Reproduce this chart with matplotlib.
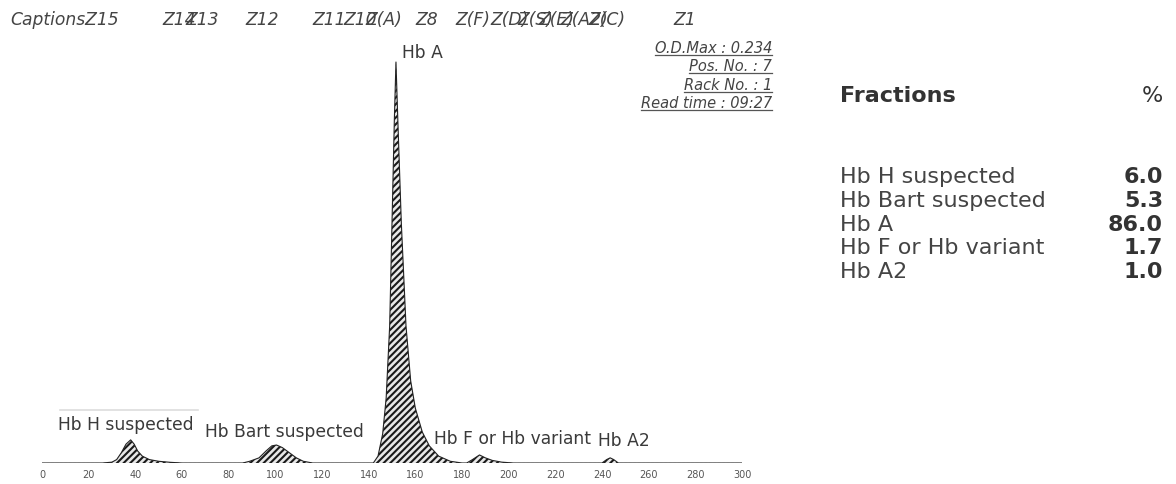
import matplotlib
matplotlib.use("Agg")
import matplotlib.pyplot as plt
from matplotlib.lines import Line2D

# chromatogram trace (retention time, absorbance)
retention_time = [0, 20, 26, 30, 32, 34, 36, 38, 39.5, 41, 43, 46, 50, 55, 60,
                  86, 89, 93, 96, 98.5, 100.5, 103, 106, 109, 112, 116,
                  142, 144, 146, 147.5, 149, 150, 151, 151.7, 152.5, 154, 156, 158, 160,
                  163, 166, 170, 175, 180,
                  182, 184.5, 187.5, 190, 193, 197, 202,
                  240, 242, 243.5, 245, 247, 300]
absorbance = [0, 0, 0, 0.0005, 0.002, 0.006, 0.011, 0.0135, 0.011, 0.007, 0.004, 0.002, 0.001, 0.0004, 0,
              0, 0.001, 0.003, 0.007, 0.0100, 0.0105, 0.009, 0.006, 0.003, 0.001, 0,
              0, 0.004, 0.017, 0.038, 0.08, 0.14, 0.2, 0.234, 0.2, 0.14, 0.08, 0.048, 0.032,
              0.018, 0.01, 0.004, 0.001, 0,
              0, 0.002, 0.0047, 0.003, 0.0015, 0.0005, 0,
              0, 0.002, 0.003, 0.002, 0, 0]

x_ticks = list(range(0, 301, 20))
x_ticklabels = ["0", "20", "40", "60", "80", "100", "120", "140", "160", "180",
                "200", "220", "240", "260", "280", "300"]

peak_names = ["Hb H suspected", "Hb Bart suspected", "Hb A", "Hb F or Hb variant", "Hb A2"]
peak_pct = ["6.0", "5.3", "86.0", "1.7", "1.0"]

captions = ["CaptionsZ15", "Z14", "Z13", "Z12", "Z11", "Z10", "Z(A)", "Z8", "Z(F)",
            "Z(D)", "Z(S)", "Z(E)", "Z(A2)", "Z(C)", "Z1"]
caption_px = [10, 162, 185, 245, 312, 343, 365, 415, 455, 490, 517, 538, 560, 588, 673]

run_info = ["O.D.Max : 0.234", "Pos. No. : 7", "Rack No. : 1", "Read time : 09:27"]

W, H = 1176, 484
fig = plt.figure(figsize=(W / 100, H / 100), dpi=100)
plt.rcParams["font.family"] = ["DejaVu Sans"]
plt.rcParams["hatch.linewidth"] = 1.5


def fx(px):
    return px / W


def fy(py):
    return 1 - py / H


ax = fig.add_axes([fx(42), 21 / H, 700 / W, 428.4 / H])
ax.set_xlim(0, 300)
ax.set_ylim(0, 0.25)
ax.fill_between(retention_time, absorbance, 0, facecolor="#e8e8e8", edgecolor="#1a1a1a",
                hatch="/////", linewidth=0)
ax.plot(retention_time, absorbance, color="#222222", linewidth=0.8)
ax.axhline(0, color="#bbbbbb", linestyle=(0, (2, 2)), linewidth=0.8, zorder=0)
ax.plot([7.5, 67], [0.031, 0.031], color="#dddddd", linewidth=1.2)

for s in ax.spines.values():
    s.set_visible(False)
ax.set_yticks([])
ax.set_xticks(x_ticks)
ax.set_xticklabels(x_ticklabels, fontsize=7, color="#555555")
ax.tick_params(axis="x", length=0, pad=5)

# peak labels
label_pos = [(58, 430), (205, 437), (402, 58), (434, 444), (598, 446)]
for name, (px, py) in zip(peak_names, label_pos):
    fig.text(fx(px), fy(py), name, fontsize=12.3, color="#3a3a3a", ha="left", va="baseline")

# caption row
for cap, px in zip(captions, caption_px):
    fig.text(fx(px), fy(25), cap, fontsize=12.3, style="italic", color="#444444",
             ha="left", va="baseline")

# run info (underlined)
info_texts = []
for i, line in enumerate(run_info):
    t = fig.text(fx(772), fy(53 + i * 18.3), line, fontsize=10.5, style="italic",
                 color="#444444", ha="right", va="baseline")
    info_texts.append(t)

# fractions table
fig.text(fx(840), fy(102), "Fractions", fontsize=16, fontweight="bold", color="#333333")
fig.text(fx(1163), fy(102), "%", fontsize=16, color="#333333", ha="right")
for i, (name, pct) in enumerate(zip(peak_names, peak_pct)):
    y = fy(183 + i * 23.8)
    fig.text(fx(840), y, name, fontsize=16, color="#444444")
    fig.text(fx(1163), y, pct, fontsize=16, fontweight="bold", color="#333333", ha="right")

fig.canvas.draw()
r = fig.canvas.get_renderer()
for t in info_texts:
    bb = t.get_window_extent(r)
    fig.add_artist(Line2D([bb.x0 / W, bb.x1 / W], [(bb.y0 + 1) / H, (bb.y0 + 1) / H],
                          transform=fig.transFigure, color="#555555", linewidth=0.9))

fig.savefig("out.png", dpi=100)
